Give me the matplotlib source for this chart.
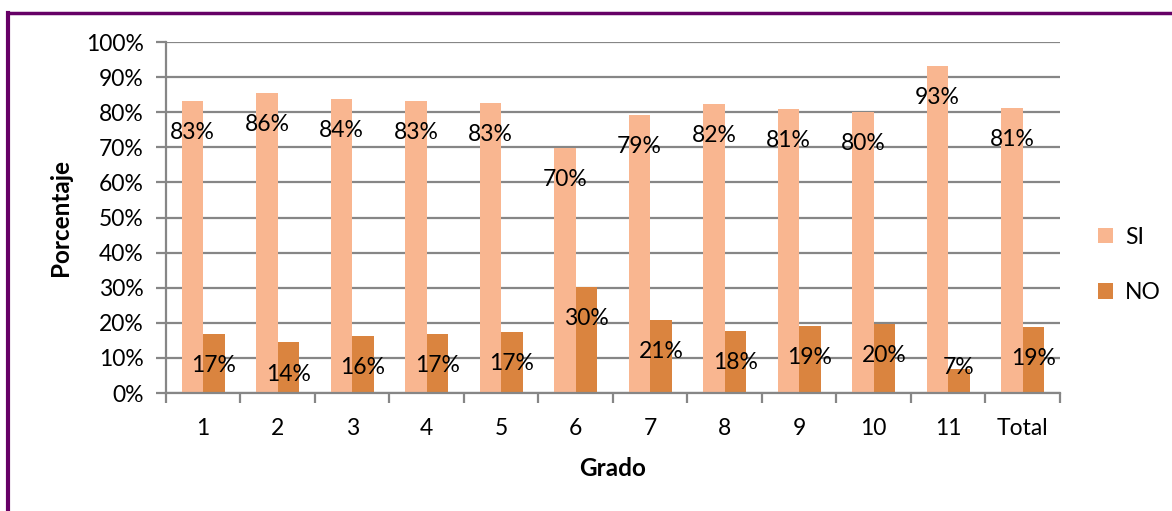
import matplotlib
matplotlib.use('Agg')
import matplotlib.pyplot as plt
from matplotlib.lines import Line2D
import numpy as np

grados = ['1', '2', '3', '4', '5', '6', '7', '8', '9', '10', '11', 'Total']
si = [83.1, 85.6, 83.7, 83.3, 82.7, 69.7, 79.1, 82.4, 80.9, 80.2, 93.1, 81.3]
no = [16.9, 14.4, 16.3, 16.7, 17.3, 30.3, 20.9, 17.6, 19.1, 19.8, 6.9, 18.7]
yticks = [0, 10, 20, 30, 40, 50, 60, 70, 80, 90, 100]

plt.rcParams['font.family'] = ['Lato', 'DejaVu Sans']
c_si = '#F9B690'
c_no = '#DA843F'
grid_c = '#868686'
fs = 16.5

fig = plt.figure(figsize=(11.72, 5.11), dpi=100)
ax = fig.add_axes([0.1416, 0.2309, 0.9044 - 0.1416, 0.9178 - 0.2309])

x = np.arange(len(grados))
w = 0.286
ax.bar(x - w/2, si, w, color=c_si, label='SI', zorder=2)
ax.bar(x + w/2, no, w, color=c_no, label='NO', zorder=2)

# labels, roughly "inside end" like the original
for xi, v in zip(x, si):
    ax.text(xi - w/2, v - 9, '%d%%' % round(v), ha='center', va='center', fontsize=fs, zorder=3)
for xi, v in zip(x, no):
    pos = v - 9 if v - 9 > 5 else v + 0.5
    ax.text(xi + w/2, pos, '%d%%' % round(v), ha='center', va='center', fontsize=fs, zorder=3)

ax.set_xlim(-0.5, len(grados) - 0.5)
ax.set_ylim(0, 100)
ax.set_yticks(yticks)
ax.set_yticklabels(['%d%%' % t for t in yticks], fontsize=fs)
ax.yaxis.grid(True, color=grid_c, linewidth=1.6, zorder=0)
ax.set_axisbelow(True)

ax.set_xticks(x)
ax.set_xticklabels(grados, fontsize=fs)
ax.set_xticks(np.arange(-0.5, len(grados)), minor=True)
ax.tick_params(axis='x', which='major', length=0, pad=18)
ax.tick_params(axis='x', which='minor', length=7, width=1.6, color=grid_c)
ax.tick_params(axis='y', length=7, width=1.6, color=grid_c, pad=9)

for s in ['top', 'right']:
    ax.spines[s].set_visible(False)
for s in ['left', 'bottom']:
    ax.spines[s].set_color(grid_c)
    ax.spines[s].set_linewidth(1.6)

ax.set_xlabel('Grado', fontsize=17.5, fontweight='bold', labelpad=13)
ax.set_ylabel('Porcentaje', fontsize=17.5, fontweight='bold', labelpad=10)

leg = ax.legend(loc='center left', bbox_to_anchor=(1.02, 0.365), frameon=False,
                fontsize=fs, handlelength=0.65, handleheight=0.65, handletextpad=0.5,
                labelspacing=1.5)

# purple frame (top and left edges)
fig.add_artist(Line2D([8/1172, 1], [1 - 13/511, 1 - 13/511], color='#660066', linewidth=2.5))
fig.add_artist(Line2D([8/1172, 8/1172], [0, 1 - 13/511], color='#660066', linewidth=3))

plt.savefig('out.png', dpi=100)
